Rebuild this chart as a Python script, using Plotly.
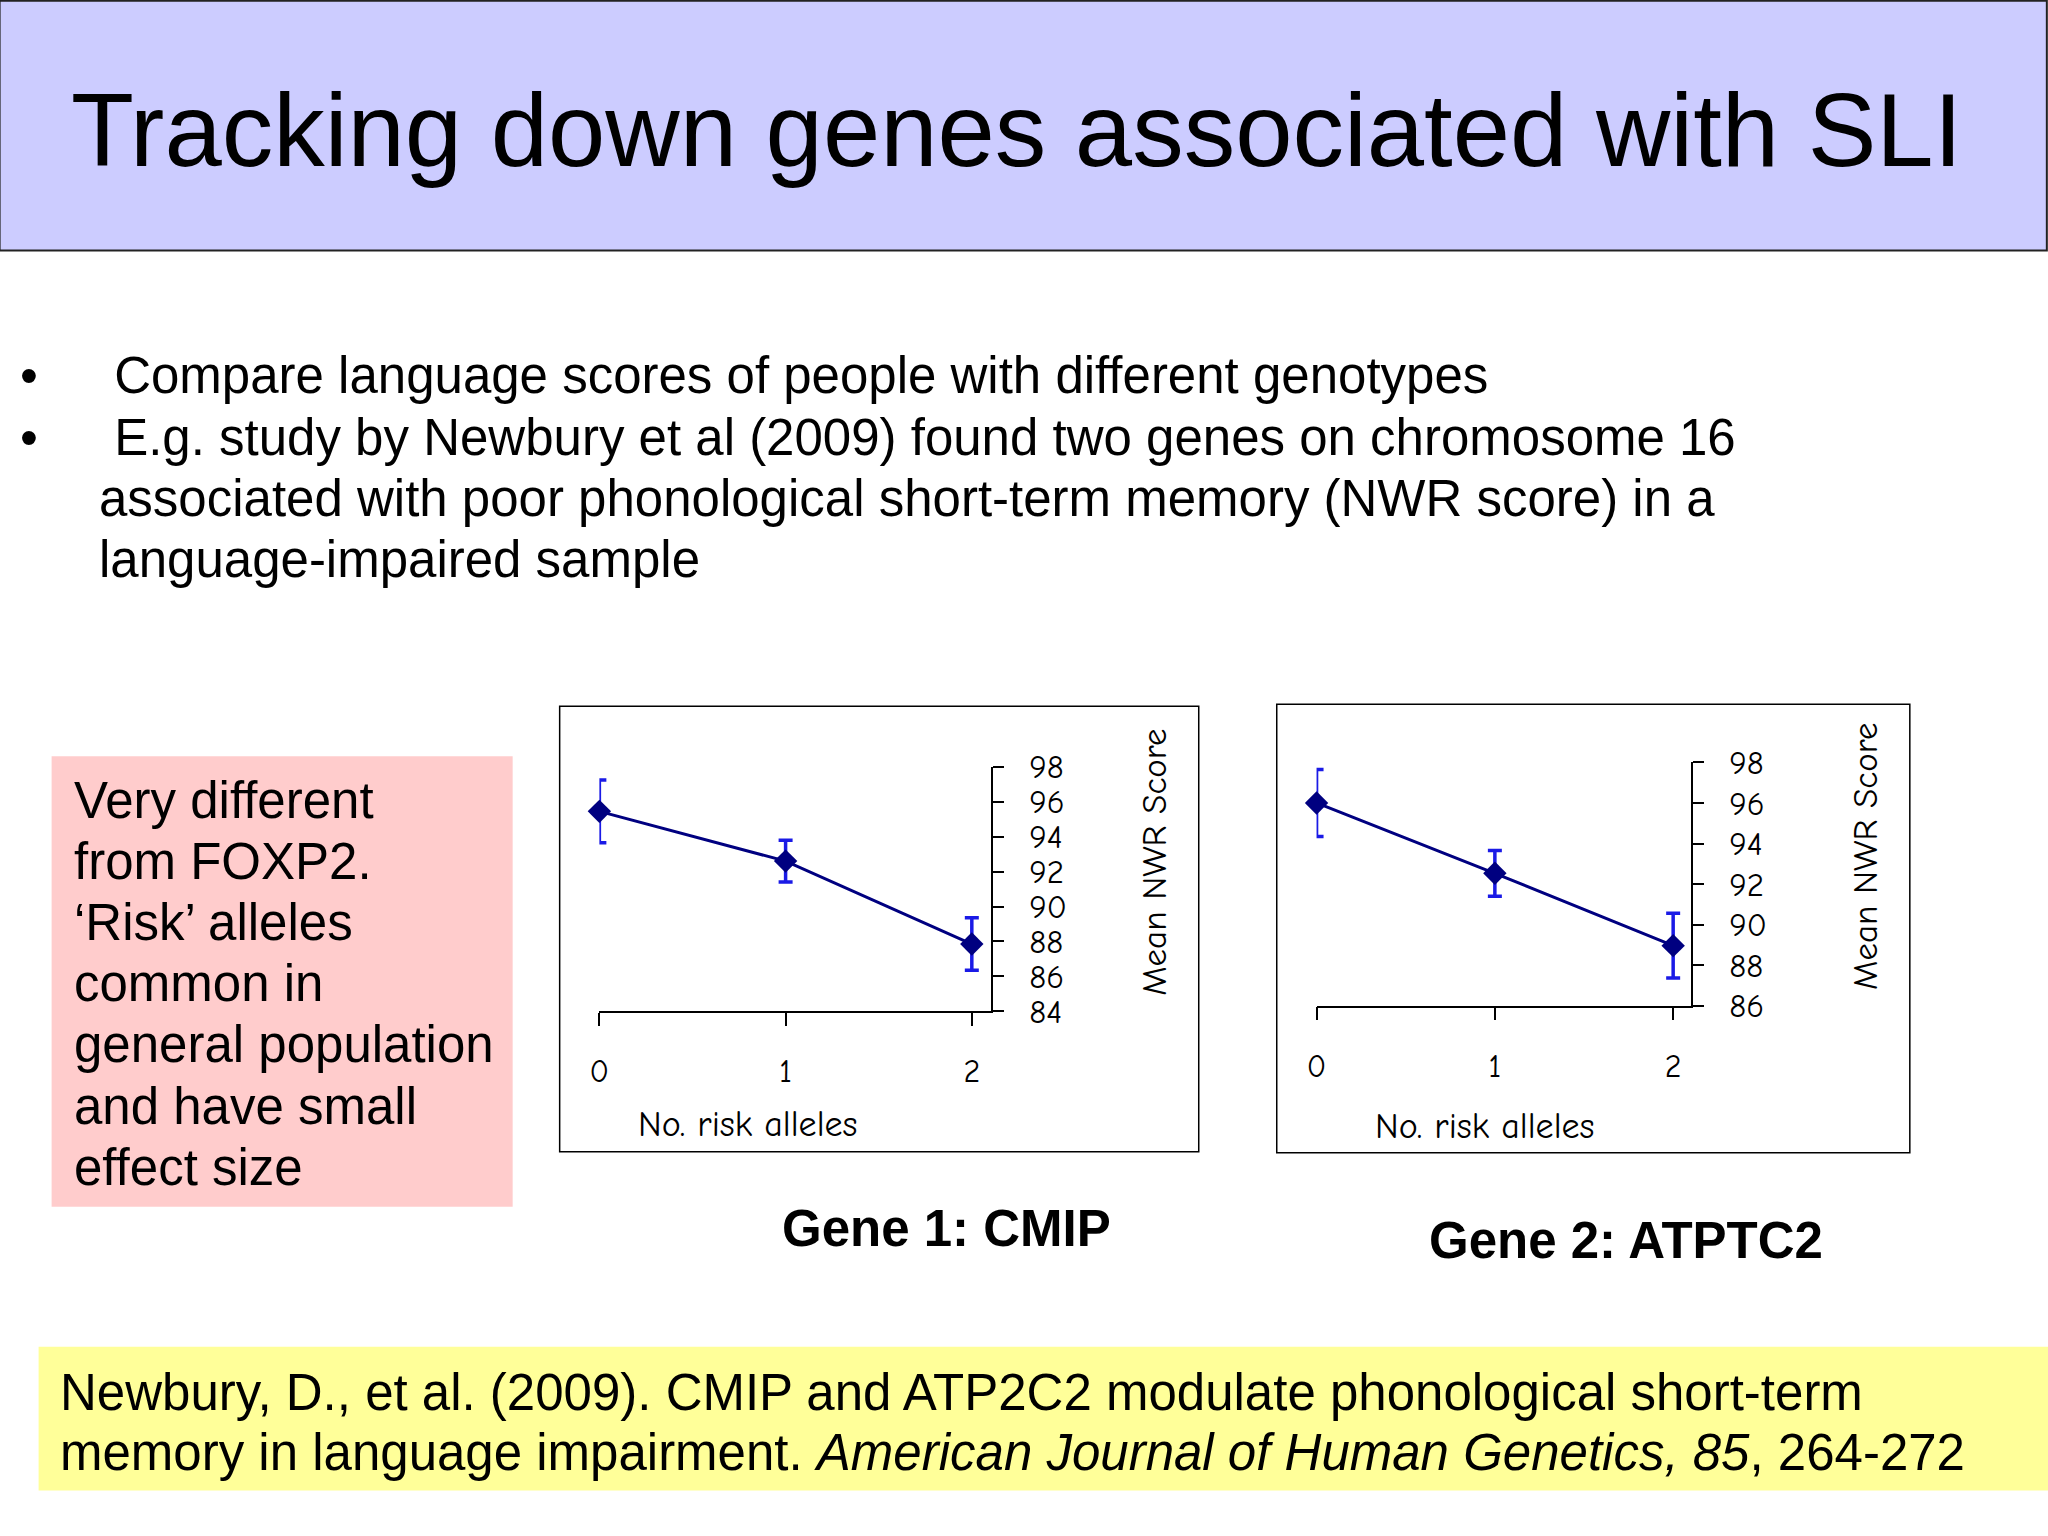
import plotly.graph_objects as go

W, H = 2048, 1536

# ---- data ----
risk_alleles = [0, 1, 2]
risk_tick_labels = ["0", "1", "2"]
cmip_scores = [95.45, 92.6, 87.85]
cmip_err = [1.8, 1.2, 1.5]
atp_scores = [96.0, 92.53, 88.96]
atp_err = [1.65, 1.13, 1.6]
cmip_yticks = [84, 86, 88, 90, 92, 94, 96, 98]
atp_yticks = [86, 88, 90, 92, 94, 96, 98]

title_text = "Tracking down genes associated with SLI"
bullet_lines = [
    ("•", " Compare language scores of people with different genotypes"),
    ("•", " E.g. study by Newbury et al (2009) found two genes on chromosome 16"),
    ("", "associated with poor phonological short-term memory (NWR score) in a"),
    ("", "language-impaired sample"),
]
pink_lines = ["Very different", "from FOXP2.", "‘Risk’ alleles", "common in",
              "general population", "and have small", "effect size"]
cite_lines = [
    "Newbury, D., et al. (2009). CMIP and ATP2C2 modulate phonological short-term",
    "memory in language impairment. <i>American Journal of Human Genetics, 85</i>, 264-272",
]

# compensation for how the page is photographed (offset + slight scaling)
OX, SX = 10.4, 0.995
OY, SY = 18.3, 0.976

def px(x):
    return ((x - OX) / SX) / W

def py(y):
    return 1 - ((y - OY) / SY) / H

SANS = "Liberation Sans, Arial, sans-serif"
CHART_FONT = "Comic Sans MS, Comic Neue, Lato, sans-serif"
NAVY = "#000080"
EBLUE = "#1a1ae6"

fig = go.Figure()

fig.add_trace(go.Scatter(
    x=risk_alleles, y=cmip_scores, mode="lines+markers",
    line=dict(color=NAVY, width=3),
    marker=dict(symbol="diamond", size=18, color=NAVY),
    error_y=dict(type="data", array=cmip_err, color=EBLUE, thickness=3.5, width=7),
    cliponaxis=False, xaxis="x", yaxis="y", showlegend=False))

fig.add_trace(go.Scatter(
    x=risk_alleles, y=atp_scores, mode="lines+markers",
    line=dict(color=NAVY, width=3),
    marker=dict(symbol="diamond", size=18, color=NAVY),
    error_y=dict(type="data", array=atp_err, color=EBLUE, thickness=3.5, width=7),
    cliponaxis=False, xaxis="x2", yaxis="y2", showlegend=False))

xcommon = dict(tickvals=risk_alleles, ticktext=risk_tick_labels, ticks="outside",
               ticklen=13, tickwidth=1.5, tickcolor="black", showline=True,
               linecolor="black", linewidth=1.5, showgrid=False, zeroline=False,
               tickfont=dict(family=CHART_FONT, size=32, color="black"),
               ticklabelstandoff=18, fixedrange=True)
ycommon = dict(side="right", ticks="outside", ticklen=11, tickwidth=1.5,
               tickcolor="black", showline=True, linecolor="black", linewidth=1.5,
               showgrid=False, zeroline=False,
               tickfont=dict(family=CHART_FONT, size=33, color="black"),
               ticklabelstandoff=19, fixedrange=True)

fig.update_layout(
    width=W, height=H, margin=dict(l=0, r=0, t=0, b=0),
    paper_bgcolor="white", plot_bgcolor="rgba(0,0,0,0)",
    xaxis=dict(domain=[px(599.7), px(991.1)], range=[0, 2.102], anchor="y", **xcommon),
    yaxis=dict(domain=[py(1012.3), py(767.7)], range=[84, 98], anchor="x",
               tickvals=cmip_yticks, **ycommon),
    xaxis2=dict(domain=[px(1316.8), px(1691.2)], range=[0, 2.1], anchor="y2", **xcommon),
    yaxis2=dict(domain=[py(1006.7), py(763.3)], range=[86, 98], anchor="x2",
                tickvals=atp_yticks, **ycommon),
)

shapes = [
    dict(type="rect", xref="paper", yref="paper", x0=px(0), x1=px(2047), y0=py(251), y1=py(1),
         fillcolor="#CCCCFF", line=dict(color="#222222", width=2), layer="below"),
    dict(type="rect", xref="paper", yref="paper", x0=px(52), x1=px(513), y0=py(1208), y1=py(757),
         fillcolor="#FFCCCC", line=dict(width=0), layer="below"),
    dict(type="rect", xref="paper", yref="paper", x0=px(39), x1=px(2060), y0=py(1492), y1=py(1348),
         fillcolor="#FFFF99", line=dict(width=0), layer="below"),
    dict(type="rect", xref="paper", yref="paper", x0=px(560), x1=px(1199), y0=py(1153), y1=py(707),
         fillcolor="rgba(0,0,0,0)", line=dict(color="black", width=1.5), layer="below"),
    dict(type="rect", xref="paper", yref="paper", x0=px(1277), x1=px(1910), y0=py(1154), y1=py(705),
         fillcolor="rgba(0,0,0,0)", line=dict(color="black", width=1.5), layer="below"),
]

ann = []
def text(x, y, s, size, family=SANS, xanchor="left", color="black", angle=0):
    ann.append(dict(x=px(x), y=py(y), xref="paper", yref="paper", text=s, showarrow=False,
                    xanchor=xanchor, yanchor="middle", textangle=angle,
                    font=dict(family=family, size=size, color=color)))

text(1017, 131, title_text, 103, xanchor="center")

bullet_y = [376, 438, 499, 560]
for (b, s), yy in zip(bullet_lines, bullet_y):
    if b:
        text(18, yy, b, 51)
        text(98, yy, s, 51)
    else:
        text(97, yy, s, 51)

pink_y = [801, 862, 923, 985, 1046, 1108, 1169]
for s, yy in zip(pink_lines, pink_y):
    text(72, yy, s, 51)

text(947, 1230, "<b>Gene 1: CMIP</b>", 51, xanchor="center")
text(1626, 1242, "<b>Gene 2: ATPTC2</b>", 51, xanchor="center")

for s, yy in zip(cite_lines, [1394, 1454]):
    text(58.5, yy, s, 51)

# axis titles
text(748, 1126, "No. risk alleles", 36, family=CHART_FONT, xanchor="center")
text(1485, 1128, "No. risk alleles", 36, family=CHART_FONT, xanchor="center")
text(1154, 863, "Mean NWR Score", 35, family=CHART_FONT, xanchor="center", angle=-90)
text(1865, 857, "Mean NWR Score", 35, family=CHART_FONT, xanchor="center", angle=-90)

fig.update_layout(shapes=shapes, annotations=ann)
fig.write_html("out.html", config={"displayModeBar": False},
               post_script="document.body.style.margin='0';document.body.style.overflow='hidden';")
